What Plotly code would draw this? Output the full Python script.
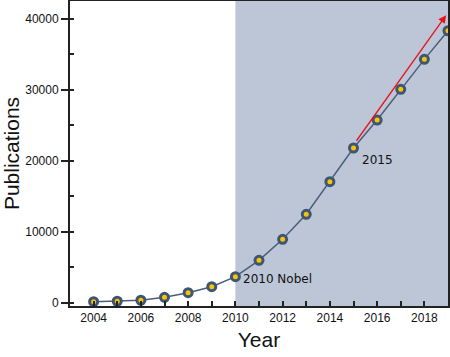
import plotly.graph_objects as go

years = list(range(2004, 2020))
publications = [140, 200, 340, 760, 1410, 2250, 3660, 5970, 8930, 12450,
                17040, 21790, 25730, 30060, 34280, 38310]
x_ticks = [2004, 2006, 2008, 2010, 2012, 2014, 2016, 2018]
y_ticks = [0, 10000, 20000, 30000, 40000]
y_tick_labels = ["0", "10000", "20000", "30000", "40000"]
shade_start = 2010
arrow_start = (2015.08, 22600)
arrow_end = (2018.92, 40500)

fig = go.Figure()
fig.add_shape(type="rect", xref="x", yref="paper", x0=shade_start, x1=2019,
              y0=0, y1=1, fillcolor="#BCC6D7", line_width=0, layer="below")
fig.add_trace(go.Scatter(
    x=years, y=publications, mode="lines+markers",
    line=dict(color="#4B5F7B", width=1.5),
    marker=dict(size=8, color="#F7C600", line=dict(color="#3E5576", width=3)),
    cliponaxis=False, showlegend=False))

fig.add_annotation(x=arrow_end[0], y=arrow_end[1], ax=arrow_start[0], ay=arrow_start[1],
                   xref="x", yref="y", axref="x", ayref="y", text="", showarrow=True,
                   arrowhead=2, arrowsize=1.2, arrowwidth=1.3, arrowcolor="#E8141B")
fig.add_annotation(x=2010, y=publications[6], text="2010 Nobel", showarrow=False,
                   xanchor="left", yanchor="middle", xshift=6, yshift=-2,
                   font=dict(family="DejaVu Sans", size=12, color="#111"))
fig.add_annotation(x=2015, y=publications[11], text="2015", showarrow=False,
                   xanchor="left", yanchor="top", xshift=6, yshift=-3,
                   font=dict(family="DejaVu Sans", size=12, color="#111"))

fig.update_xaxes(range=[2003, 2019], tickvals=x_ticks, ticks="inside", ticklen=5,
                 tickwidth=1.5, tickcolor="#222", showline=True, linecolor="#222",
                 linewidth=2, mirror=True, showgrid=False, zeroline=False,
                 automargin=False,
                 minor=dict(dtick=1, tick0=2003, ticks="inside", ticklen=5,
                            tickwidth=1.5, tickcolor="#222"),
                 tickfont=dict(family="Liberation Sans", size=12, color="#111"),
                 title=dict(text="Year", font=dict(family="Liberation Sans", size=21, color="#111"),
                            standoff=8))
fig.update_yaxes(range=[-470, 42500], tickvals=y_ticks, ticktext=y_tick_labels,
                 ticks="outside", ticklen=7,
                 tickwidth=1.5, tickcolor="#222", showline=True, linecolor="#222",
                 linewidth=2, mirror=True, showgrid=False, zeroline=False,
                 automargin=False,
                 minor=dict(dtick=5000, tick0=0, ticks="inside", ticklen=4,
                            tickwidth=1.5, tickcolor="#222"),
                 tickfont=dict(family="Liberation Sans", size=12, color="#111"),
                 title=dict(text="Publications", font=dict(family="Liberation Sans", size=21, color="#111"),
                            standoff=4))

fig.update_layout(width=450, height=357, margin=dict(l=70, r=2, t=1, b=51),
                  plot_bgcolor="white", paper_bgcolor="white")
fig.write_html("out.html", config={"displayModeBar": False},
               post_script="document.body.style.margin='0';")
